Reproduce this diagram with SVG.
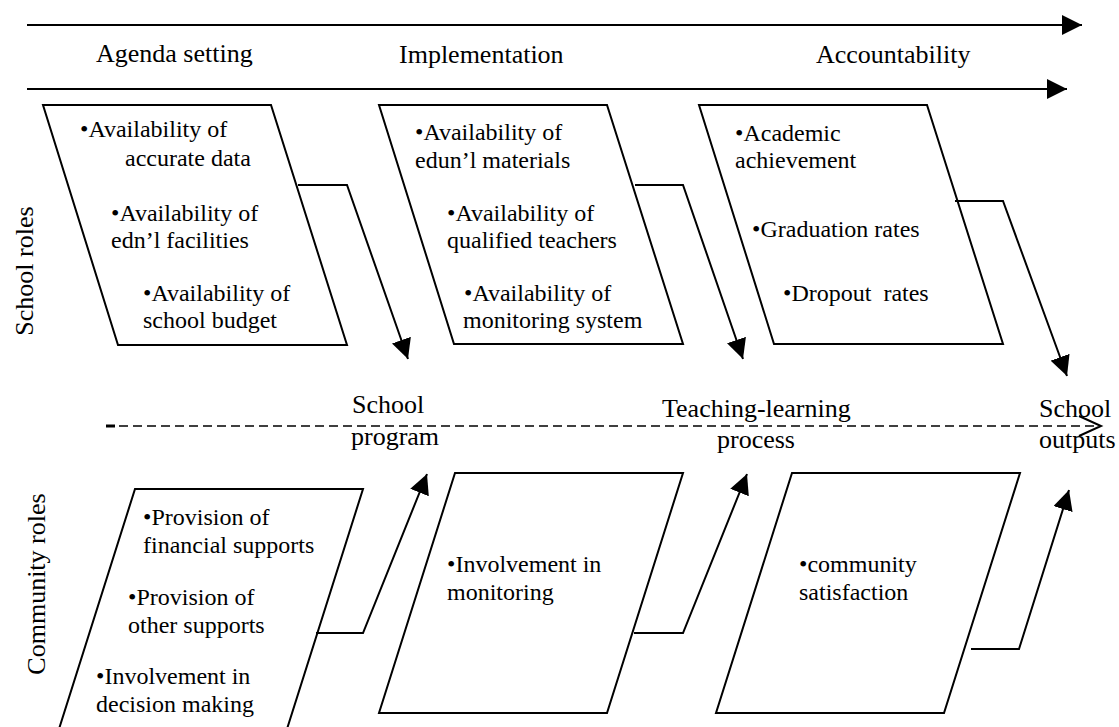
<svg xmlns="http://www.w3.org/2000/svg" width="1119" height="727" viewBox="0 0 1119 727">
  <style>
    text { font-family: "Liberation Serif", "Times New Roman", serif; fill: #000; }
    .head { font-size: 26px; }
    .lbl { font-size: 26px; }
    .body { font-size: 24px; }
    .box { fill: #fff; stroke: #000; stroke-width: 2; stroke-linejoin: miter; }
    .conn { fill: none; stroke: #000; stroke-width: 2; }
    .dash { fill: none; stroke: #000; stroke-width: 1.6; stroke-dasharray: 9 5; }
  </style>
  <defs>
    <marker id="arrow" markerUnits="userSpaceOnUse" viewBox="0 0 20 20" markerWidth="20" markerHeight="20" refX="20" refY="10" orient="auto">
      <path d="M0,0 L20,10 L0,20 z" fill="#000"/>
    </marker>
  </defs>
  <rect width="1119" height="727" fill="#fff"/>

  <!-- stage timeline -->
  <g id="timeline">
    <line class="conn" x1="27" y1="25" x2="1082" y2="25" marker-end="url(#arrow)"/>
    <line class="conn" x1="27" y1="89" x2="1067" y2="89" marker-end="url(#arrow)"/>
    <text class="head" x="96" y="62">Agenda setting</text>
    <text class="head" x="399" y="63">Implementation</text>
    <text class="head" x="816" y="63">Accountability</text>
  </g>

  <!-- row labels -->
  <text class="lbl" transform="translate(33,271) rotate(-90)" text-anchor="middle">School roles</text>
  <text class="lbl" transform="translate(45,584) rotate(-90)" text-anchor="middle">Community roles</text>

  <!-- school roles -->
  <g id="school-agenda">
    <polygon class="box" points="43,105 271,105 347,345 118,345"/>
    <text class="body" x="80" y="137">•Availability of</text>
    <text class="body" x="125" y="166">accurate data</text>
    <text class="body" x="111" y="221">•Availability of</text>
    <text class="body" x="111" y="248">edn’l facilities</text>
    <text class="body" x="143" y="301">•Availability of</text>
    <text class="body" x="143" y="328">school budget</text>
  </g>
  <g id="school-implementation">
    <polygon class="box" points="379,105 607,105 683,344 454,344"/>
    <text class="body" x="415" y="140">•Availability of</text>
    <text class="body" x="415" y="168">edun’l materials</text>
    <text class="body" x="447" y="221">•Availability of</text>
    <text class="body" x="447" y="248">qualified teachers</text>
    <text class="body" x="464" y="301">•Availability of</text>
    <text class="body" x="463" y="328">monitoring system</text>
  </g>
  <g id="school-accountability">
    <polygon class="box" points="699,105 927,105 1003,344 774,344"/>
    <text class="body" x="735" y="141">•Academic</text>
    <text class="body" x="735" y="168">achievement</text>
    <text class="body" x="752" y="237">•Graduation rates</text>
    <text class="body" x="783" y="301" xml:space="preserve">•Dropout  rates</text>
  </g>

  <!-- outcome stages along the dashed axis -->
  <g id="outcomes">
    <line class="dash" x1="119" y1="426" x2="1100" y2="426"/>
    <line x1="106" y1="426" x2="115" y2="426" stroke="#000" stroke-width="3"/>
    <polyline class="conn" points="1079,416 1101,426 1079,436"/>
    <text class="lbl" x="352" y="413">School</text>
    <text class="lbl" x="351" y="445">program</text>
    <text class="lbl" x="662" y="417">Teaching-learning</text>
    <text class="lbl" x="717" y="448">process</text>
    <text class="lbl" x="1039" y="417">School</text>
    <text class="lbl" x="1039" y="448">outputs</text>
  </g>

  <!-- community roles -->
  <g id="community-agenda">
    <polygon class="box" points="135,489 363,489 287,729 59,729"/>
    <text class="body" x="143" y="525">•Provision of</text>
    <text class="body" x="143" y="553">financial supports</text>
    <text class="body" x="128" y="605">•Provision of</text>
    <text class="body" x="128" y="633">other supports</text>
    <text class="body" x="96" y="684">•Involvement in</text>
    <text class="body" x="96" y="712">decision making</text>
  </g>
  <g id="community-implementation">
    <polygon class="box" points="455,473 683,473 607,713 379,713"/>
    <text class="body" x="447" y="572">•Involvement in</text>
    <text class="body" x="447" y="600">monitoring</text>
  </g>
  <g id="community-accountability">
    <polygon class="box" points="792,473 1020,473 944,713 716,713"/>
    <text class="body" x="799" y="572">•community</text>
    <text class="body" x="799" y="600">satisfaction</text>
  </g>

  <!-- connectors from each role box to its outcome -->
  <g id="connectors">
    <polyline class="conn" points="298,185 347,185 408,359" marker-end="url(#arrow)"/>
    <polyline class="conn" points="635,185 683,185 743,359" marker-end="url(#arrow)"/>
    <polyline class="conn" points="955,201 1003,201 1067,376" marker-end="url(#arrow)"/>
    <polyline class="conn" points="316,633 363,633 427,474" marker-end="url(#arrow)"/>
    <polyline class="conn" points="634,633 683,633 747,474" marker-end="url(#arrow)"/>
    <polyline class="conn" points="971,649 1019,649 1069,490" marker-end="url(#arrow)"/>
  </g>
</svg>
